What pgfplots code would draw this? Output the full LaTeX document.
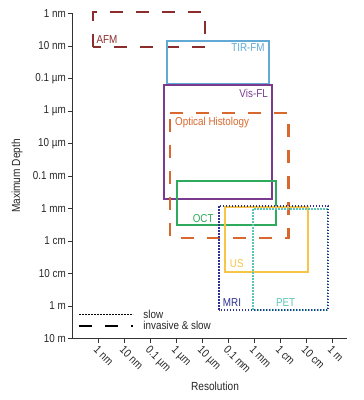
\documentclass[border=0pt]{standalone}
\usepackage{fontspec}
\setmainfont[FakeStretch=0.86]{Liberation Sans}
\usepackage{pgfplots}
\pgfplotsset{compat=1.18}
\definecolor{afm}{HTML}{8C2D2D}
\definecolor{tir}{HTML}{62AAD6}
\definecolor{vis}{HTML}{7A3B8F}
\definecolor{oh}{HTML}{D9682E}
\definecolor{oct}{HTML}{2EAA5C}
\definecolor{us}{HTML}{F7C548}
\definecolor{mri}{HTML}{2E3192}
\definecolor{pet}{HTML}{5CC6B5}
\begin{document}
\begin{tikzpicture}
\begin{axis}[
  scale only axis, width=275bp, height=325bp,
  xmin=-10, xmax=0.58, ymin=-1, ymax=9,
  axis x line*=bottom, axis y line*=left,
  axis line style={line width=0.8bp, black!80},
  tick align=outside, major tick length=4bp,
  tick style={line width=0.8bp, black!80},
  xtick={-9,-8,-7,-6,-5,-4,-3,-2,-1,0},
  xticklabels={1 nm,10 nm,0.1 µm,1 µm,10 µm,0.1 mm,1 mm,1 cm,10 cm,1 m},
  ytick={-1,0,1,2,3,4,5,6,7,8,9},
  yticklabels={10 m,1 m,10 cm,1 cm,1 mm,0.1 mm,10 µm,1 µm,0.1 µm,10 nm,1 nm},
  ticklabel style={font=\fontsize{11.5}{13}\selectfont, text=black!85},
  xticklabel style={rotate=-45, anchor=north west, inner sep=1bp, xshift=1bp},
  yticklabel style={inner sep=2bp},
  clip=false,
  xlabel={Resolution}, ylabel={Maximum Depth},
  label style={font=\fontsize{11.8}{13}\selectfont, text=black!85},
  xlabel style={at={(axis description cs:0.52,-0.146)}, anchor=center},
  ylabel style={at={(axis description cs:-0.2,0.5)}, anchor=center},
  legend style={draw=none, fill=none, at={(rel axis cs:0.022,0.092)}, anchor=north west,
    inner sep=0pt, row sep=-0.5bp, font=\fontsize{11.5}{12}\selectfont,
    nodes={inner sep=1bp, text=black!85}},
  legend cell align=left,
  legend image code/.code={\draw[#1] (0bp,0bp) -- (54bp,0bp); \path (62bp,0bp);},
]
% AFM
\addplot[afm, line width=2.2bp, dash pattern=on 13bp off 13bp, forget plot]
  coordinates {(-9.2,7.98) (-9.2,9.05) (-4.88,9.05) (-4.88,7.98)} -- cycle;
% TIR-FM
\addplot[tir, line width=1.6bp, forget plot]
  coordinates {(-6.35,6.83) (-6.35,8.15) (-2.42,8.15) (-2.42,6.83)} -- cycle;
% Vis-FL
\addplot[vis, line width=1.6bp, forget plot]
  coordinates {(-6.46,3.29) (-6.46,6.80) (-2.31,6.80) (-2.31,3.29)} -- cycle;
% Optical Histology
\addplot[oh, line width=2.2bp, dash pattern=on 13bp off 13bp, forget plot]
  coordinates {(-6.23,5.94) (-1.67,5.94) (-1.67,2.09) (-6.23,2.09)} -- cycle;
% OCT
\addplot[oct, line width=1.6bp, forget plot]
  coordinates {(-5.96,2.49) (-5.96,3.85) (-2.15,3.85) (-2.15,2.49)} -- cycle;
% US
\addplot[us, line width=1.6bp, forget plot]
  coordinates {(-4.12,1.05) (-4.12,3.05) (-0.92,3.05) (-0.92,1.05)} -- cycle;
% PET
\addplot[pet, line width=1.8bp, dash pattern=on 1.5bp off 1.5bp, forget plot]
  coordinates {(-3.04,-0.12) (-3.04,2.98) (-0.17,2.98) (-0.17,-0.12)} -- cycle;
% MRI
\addplot[mri, line width=1.8bp, dash pattern=on 1.5bp off 1.5bp, forget plot]
  coordinates {(-4.35,-0.12) (-4.35,3.08) (-0.15,3.08) (-0.15,-0.12)} -- cycle;

\addlegendimage{black, line width=1.6bp, dash pattern=on 1.5bp off 1.5bp}
\addlegendentry{slow}
\addlegendimage{black, line width=2.2bp, dash pattern=on 13bp off 13bp}
\addlegendentry{invasive \& slow}

\begin{scope}[every node/.style={font=\fontsize{11.5}{13}\selectfont, inner sep=0pt}]
\node[anchor=base west, text=afm] at (axis cs:-9.06,8.09) {AFM};
\node[anchor=base east, text=tir] at (axis cs:-2.58,7.82) {TIR-FM};
\node[anchor=base east, text=vis] at (axis cs:-2.46,6.40) {Vis-FL};
\node[anchor=base west, text=oh] at (axis cs:-6.04,5.55) {Optical Histology};
\node[anchor=base west, text=oct] at (axis cs:-5.36,2.56) {OCT};
\node[anchor=base west, text=us] at (axis cs:-3.93,1.18) {US};
\node[anchor=base west, text=mri] at (axis cs:-4.20,-0.02) {MRI};
\node[anchor=base, text=pet] at (axis cs:-1.78,-0.02) {PET};
\end{scope}
\end{axis}
\pgfresetboundingbox
\path[use as bounding box] (-72bp,-61.5bp) rectangle (292bp,338.5bp);
\end{tikzpicture}
\end{document}
